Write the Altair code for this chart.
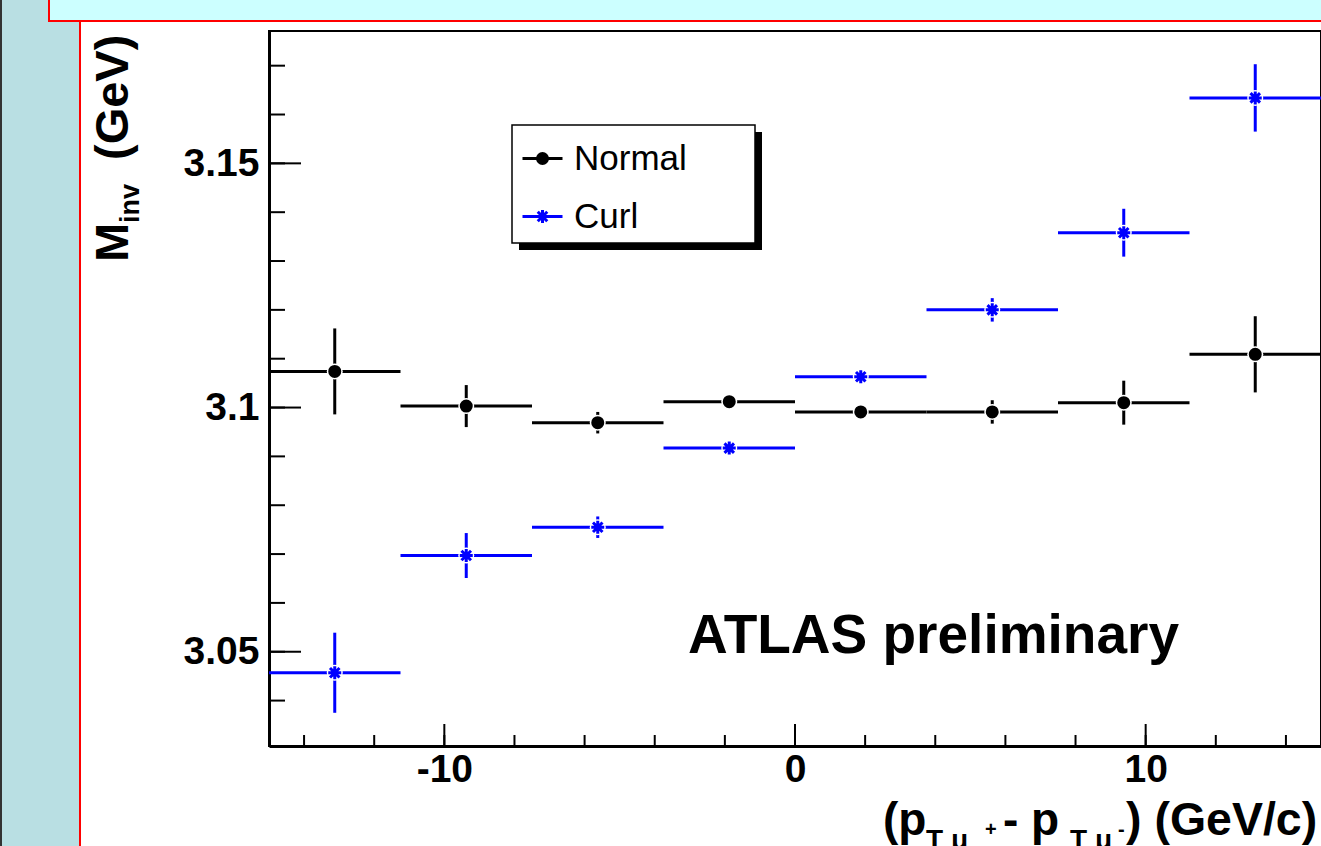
import altair as alt
import pandas as pd

# ---------------- data ----------------
bin_edges = [-15, -11.25, -7.5, -3.75, 0, 3.75, 7.5, 11.25, 15]
series_names = ["Normal", "Curl"]
normal_vals = [3.1074, 3.1003, 3.0969, 3.1012, 3.0991, 3.0991, 3.1010, 3.1109]
normal_errs = [0.0088, 0.0043, 0.0022, 0.0010, 0.0010, 0.0024, 0.0045, 0.0078]
curl_vals = [3.0457, 3.0697, 3.0755, 3.0917, 3.1063, 3.1200, 3.1358, 3.1634]
curl_errs = [0.0082, 0.0046, 0.0022, 0.0010, 0.0010, 0.0024, 0.0049, 0.0069]

x_label_values = [-10, 0, 10]
x_minor_ticks = [-14, -12, -10, -8, -6, -4, -2, 0, 2, 4, 6, 8, 10, 12, 14]
y_label_values = [3.05, 3.1, 3.15]
y_minor_ticks = [3.04, 3.05, 3.06, 3.07, 3.08, 3.09, 3.10, 3.11, 3.12, 3.13,
                 3.14, 3.15, 3.16, 3.17]

rows = []
for name, vals, errs in [("Normal", normal_vals, normal_errs), ("Curl", curl_vals, curl_errs)]:
    for i in range(len(vals)):
        lo, hi = bin_edges[i], bin_edges[i + 1]
        rows.append(dict(series=name, lo=lo, hi=hi, xc=(lo + hi) / 2, val=vals[i],
                         ylo=vals[i] - errs[i], yhi=vals[i] + errs[i]))
df = pd.DataFrame(rows)

W, H = 1052, 715
FONT = "Liberation Sans"

xs = alt.Scale(domain=[-15, 15], nice=False, zero=False)
ys = alt.Scale(domain=[3.0307, 3.1771], nice=False, zero=False)
cs = alt.Scale(domain=series_names, range=["#000000", "#0000ff"])
dot_marker = "M-1,0A1,1,0,1,0,1,0A1,1,0,1,0,-1,0Z"
star_marker = "M-1.3,0L1.3,0M0,-1.3L0,1.3M-0.95,-0.95L0.95,0.95M-0.95,0.95L0.95,-0.95"
dot_legend = "M-4,0L4,0" + dot_marker
star_legend = "M-4,0L4,0" + star_marker
ss_legend = alt.Scale(domain=series_names, range=[dot_legend, star_legend])

one = alt.Data(values=[{"a": 1}])


def box(x, x2, y, y2, **kw):
    return alt.Chart(one).mark_rect(**kw).encode(
        x=alt.value(x), x2=alt.value(x2), y=alt.value(y), y2=alt.value(y2))


def txt(s, x, y, size, angle=0, baseline="alphabetic"):
    return alt.Chart(one).mark_text(
        text=s, font=FONT, fontWeight="bold", fontSize=size, color="black",
        align="left", baseline=baseline, angle=angle
    ).encode(x=alt.value(x), y=alt.value(y))


# slide decorations (pixel offsets relative to plot origin at 269,31)
teal = box(-267, -189, -31, 815, color="#b9dfe3")
dark = box(-269, -267, -31, 815, color="#333333")
redline = box(-190, -188, -10, 815, color="#ff0000")
topbox = box(-220, 1060, -40, -10, fill="#ccffff", stroke="#ff0000", strokeWidth=2)

# legend box with shadow
shadow = box(250, 493, 101, 219, color="#000000")
legbox = box(243, 486, 94, 212, fill="#ffffff", stroke="#000000", strokeWidth=1.5)

xaxis = alt.Axis(values=x_label_values, labelExpr="'' + datum.value", title=None,
                 ticks=False, grid=False, domain=True, domainWidth=3, domainColor="black",
                 labelFont=FONT, labelFontWeight="bold", labelFontSize=39,
                 labelColor="black", labelPadding=4)
yaxis = alt.Axis(values=y_label_values, labelExpr="'' + datum.value", title=None,
                 ticks=False, grid=False, domain=True, domainWidth=3, domainColor="black",
                 labelFont=FONT, labelFontWeight="bold", labelFontSize=39,
                 labelColor="black", labelPadding=10)

leg = alt.Legend(title=None, orient="none", legendX=243, legendY=95,
                 labelFont=FONT, labelFontSize=35, labelColor="black",
                 symbolSize=100, symbolStrokeWidth=3, padding=15, rowPadding=22,
                 symbolOffset=-2, labelOffset=14)

hbar = alt.Chart(df).mark_rule(strokeWidth=3).encode(
    x=alt.X("lo:Q", scale=xs, axis=xaxis),
    x2="hi:Q",
    y=alt.Y("val:Q", scale=ys, axis=yaxis),
    color=alt.Color("series:N", scale=cs, legend=leg),
)
vbar = alt.Chart(df).mark_rule(strokeWidth=3).encode(
    x=alt.X("xc:Q", scale=xs, axis=xaxis),
    y=alt.Y("ylo:Q", scale=ys, axis=yaxis),
    y2="yhi:Q",
    color=alt.Color("series:N", scale=cs, legend=leg),
)
# white gap around markers (as ROOT draws error bars)
halo = alt.Chart(df).mark_point(shape="circle", filled=True, color="white",
                                size=256, opacity=1).encode(
    x=alt.X("xc:Q", scale=xs, axis=xaxis),
    y=alt.Y("val:Q", scale=ys, axis=yaxis),
)


def marker_layer(name, shape):
    return alt.Chart(df).transform_filter(alt.datum.series == name).mark_point(
        shape=shape, filled=False, size=100, strokeWidth=3, opacity=1).encode(
        x=alt.X("xc:Q", scale=xs, axis=xaxis),
        y=alt.Y("val:Q", scale=ys, axis=yaxis),
        color=alt.Color("series:N", scale=cs, legend=leg),
        fill=alt.Fill("series:N", scale=cs, legend=leg),
    )


pts_normal = marker_layer("Normal", dot_marker)
pts_curl = marker_layer("Curl", star_marker)

# legend-only layer (no rows drawn) that supplies line+marker legend symbols
legend_layer = alt.Chart(df).transform_filter("false").mark_point(
    filled=False, size=100, strokeWidth=3, opacity=1).encode(
    x=alt.X("xc:Q", scale=xs, axis=xaxis),
    y=alt.Y("val:Q", scale=ys, axis=yaxis),
    color=alt.Color("series:N", scale=cs, legend=leg),
    fill=alt.Fill("series:N", scale=cs, legend=leg),
    shape=alt.Shape("series:N", scale=ss_legend, legend=leg),
)

# inward ticks
ytick_minor = alt.Chart(pd.DataFrame({"v": y_minor_ticks})).mark_rule(
    strokeWidth=2, color="black").encode(
    y=alt.Y("v:Q", scale=ys, axis=yaxis), x=alt.value(0), x2=alt.value(16))
ytick_major = alt.Chart(pd.DataFrame({"v": y_label_values})).mark_rule(
    strokeWidth=2, color="black").encode(
    y=alt.Y("v:Q", scale=ys, axis=yaxis), x=alt.value(0), x2=alt.value(32))
xtick_minor = alt.Chart(pd.DataFrame({"v": x_minor_ticks})).mark_rule(
    strokeWidth=2, color="black").encode(
    x=alt.X("v:Q", scale=xs, axis=xaxis), y=alt.value(H), y2=alt.value(H - 11))
xtick_major = alt.Chart(pd.DataFrame({"v": x_label_values})).mark_rule(
    strokeWidth=2, color="black").encode(
    x=alt.X("v:Q", scale=xs, axis=xaxis), y=alt.value(H), y2=alt.value(H - 22))

atlas = txt("ATLAS preliminary", 419, 622, 55)

# y title: M_inv (GeV), rotated
yt1 = txt("M", -141, 231, 47, angle=270)
yt2 = txt("inv", -130, 192, 27, angle=270)
yt3 = txt("(GeV)", -141, 129, 47, angle=270)

# x title: (p_T mu+ - p_T mu-) (GeV/c)
xt = [
    txt("(p", 614, 804, 46),
    txt("T μ", 657, 818, 28),
    txt("+", 716, 805, 20),
    txt("- p", 734, 804, 46),
    txt("T μ", 801, 818, 28),
    txt("-", 849, 805, 20),
    txt(") (GeV/c)", 857, 804, 46.5),
]

chart = alt.layer(
    teal, dark, redline, topbox, shadow, legbox,
    hbar, vbar, halo, pts_normal, pts_curl, legend_layer,
    ytick_minor, ytick_major, xtick_minor, xtick_major,
    atlas, yt1, yt2, yt3, *xt
).properties(
    width=W, height=H,
    autosize=alt.AutoSizeParams(type="none"),
    padding={"left": 269, "top": 31, "right": 0, "bottom": 100},
    background="white",
).configure_view(stroke="black", strokeWidth=2)

chart.save("out.html", embed_options={"renderer": "svg", "actions": False})
